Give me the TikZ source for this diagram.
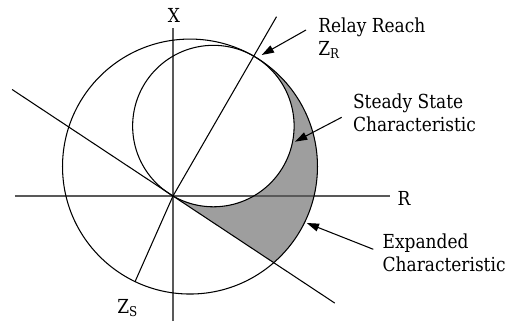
\documentclass[tikz,border=0pt]{standalone}
\usepackage{fontspec}
\setmainfont{DejaVu Serif}[FakeStretch=0.88]
\usepackage{tikz}
\usetikzlibrary{
  arrows.meta
}

\begin{document}
\begin{tikzpicture}[
  x=0.02cm,
  y=0.02cm,
  font=\fontsize{11}{13.2}\selectfont,
  axisline/.style={
    draw=black!65,
    line width=0.9pt
  },
  charcircle/.style={
    draw=black,
    line width=0.6pt
  },
  ray/.style={
    draw=black,
    line width=0.6pt
  },
  pointer/.style={
    -{Triangle[length=7pt, width=4.5pt]},
    line width=0.6pt
  },
  tag/.style={
    anchor=north west,
    inner sep=0pt,
    align=left
  },
  zone/.style={
    fill=black!38
  }
]
\useasboundingbox (-173,-128) rectangle (340,196);

% Key points (origin at the axes crossing)
\coordinate (o) at (0,0);
\coordinate (cbig) at (60:34);
\coordinate (csmall) at (60:80.75);
\coordinate (zr) at (60:161.5);
\coordinate (rtop) at (60:207);
\coordinate (zs) at (246.1:93.7);
\coordinate (lineul) at (146.5:193);
\coordinate (linelr) at (-33.5:194);
\coordinate (cut) at (-33.5:120.8);

% Shaded part between the two characteristics
\fill[zone] (o) -- (cut)
  arc[start angle=-49, end angle=60, radius=2.55cm]
  arc[start angle=60, end angle=-120, radius=1.615cm] -- cycle;

% Axes
\coordinate (ybot) at (0,-125);
\coordinate (ytop) at (0,168);
\coordinate (xleft) at (-158,0);
\coordinate (xright) at (217,0);
\draw[axisline] (ybot) -- (ytop);
\draw[axisline] (xleft) -- (xright);
\node (xlab) at (1,181) {X};
\node (rlab) at (231,-2.5) {R};

% Characteristics
\draw[charcircle] (cbig) circle[radius=2.55cm];
\draw[charcircle] (csmall) circle[radius=1.615cm];

% Impedance lines
\draw[ray] (o) -- (rtop);
\draw[ray] (o) -- (zs);
\draw[ray] (lineul) -- (linelr);

% Labels and pointers
\node[tag] (reach) at (145,179) {Relay Reach\\Z\textsubscript{R}};
\node[tag] (steady) at (179.7,102.5) {Steady State\\Characteristic};
\node[tag] (expanded) at (209.3,-37.2) {Expanded\\Characteristic};
\node[anchor=base west, inner sep=0pt] (zslab) at (-56,-117) {Z\textsubscript{S}};

\coordinate (reachtail) at (133,166);
\coordinate (reachtip) at (88.7,141);
\coordinate (steadytail) at (168.7,78.7);
\coordinate (steadytip) at (122,54.3);
\coordinate (expandedtail) at (200.3,-53.3);
\coordinate (expandedtip) at (133.7,-27);
\draw[pointer] (reachtail) -- (reachtip);
\draw[pointer] (steadytail) -- (steadytip);
\draw[pointer] (expandedtail) -- (expandedtip);

\end{tikzpicture}
\end{document}
